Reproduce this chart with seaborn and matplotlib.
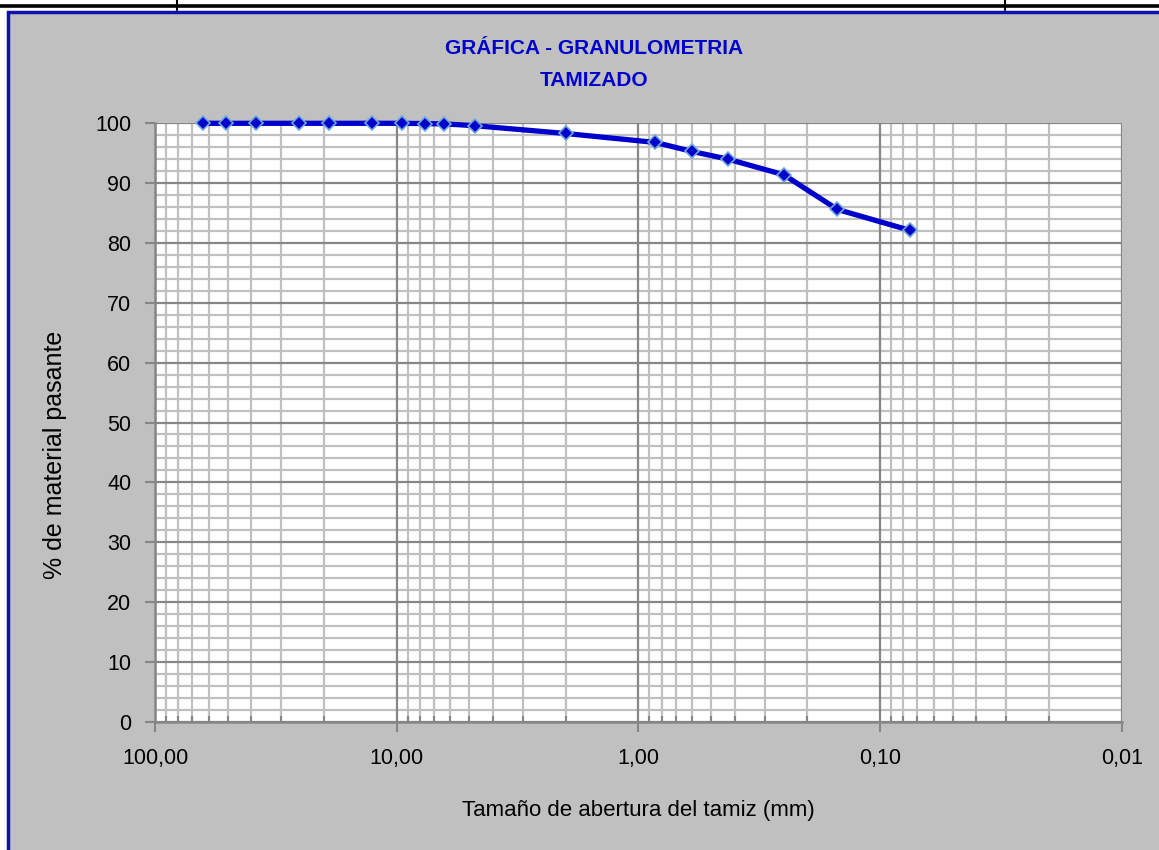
import numpy as np
import pandas as pd
import seaborn as sns
import matplotlib
matplotlib.use("Agg")
import matplotlib.pyplot as plt
from matplotlib.patches import Rectangle
from matplotlib.lines import Line2D
from matplotlib.ticker import LogLocator, MultipleLocator, FuncFormatter, NullFormatter

# Sieve openings (mm) and cumulative percent passing
abertura_mm = [63.5, 50.8, 38.1, 25.4, 19.05, 12.7, 9.525, 7.6, 6.35, 4.75,
               2.0, 0.85, 0.6, 0.425, 0.25, 0.15, 0.075]
pasante = [100.0, 100.0, 100.0, 100.0, 100.0, 100.0, 100.0, 99.95, 99.9, 99.6,
           98.3, 96.8, 95.3, 94.0, 91.4, 85.6, 82.1]

titulo_1 = "GRÁFICA - GRANULOMETRIA"
titulo_2 = "TAMIZADO"
etiqueta_x = "Tamaño de abertura del tamiz (mm)"
etiqueta_y = "% de material pasante"

df = pd.DataFrame({"abertura": abertura_mm, "pasante": pasante})

sns.set_theme(style="white")
plt.rcParams["font.family"] = ["Liberation Sans", "DejaVu Sans"]

W, H = 1159, 850
fig = plt.figure(figsize=(W / 100, H / 100), dpi=100)
fig.patch.set_facecolor("white")

# Gray chart panel with blue frame
fig.add_artist(Rectangle((8 / W, -0.02), 1.05, (H - 12) / H + 0.02,
                         transform=fig.transFigure, facecolor="#C0C0C0",
                         edgecolor="#1010B0", linewidth=2.5, zorder=0))
# Table border strip above the chart
fig.add_artist(Line2D([0, 1], [1 - 6 / H, 1 - 6 / H], transform=fig.transFigure,
                      color="black", linewidth=2.6))
for xp in (177, 1005):
    fig.add_artist(Line2D([xp / W, xp / W], [1, 1 - 10 / H], transform=fig.transFigure,
                          color="black", linewidth=1.5))

ax = fig.add_axes([155 / W, 1 - 721.7 / H, (1121.7 - 155) / W, (721.7 - 123.3) / H])
ax.set_facecolor("white")

ax.set_xscale("log")
ax.set_xlim(100, 0.01)
ax.set_ylim(0, 100)

ax.xaxis.set_major_locator(LogLocator(base=10, numticks=10))
ax.xaxis.set_minor_locator(LogLocator(base=10, subs=np.arange(2, 10), numticks=20))
ax.xaxis.set_major_formatter(FuncFormatter(lambda v, p: f"{v:.2f}".replace(".", ",")))
ax.xaxis.set_minor_formatter(NullFormatter())
ax.yaxis.set_major_locator(MultipleLocator(10))
ax.yaxis.set_minor_locator(MultipleLocator(2))

# Light minor grid underneath, darker major grid on top of it
xmin_locs = [v for v in ax.xaxis.get_minorticklocs() if 0.01 < v < 100]
ymin_locs = [v for v in ax.yaxis.get_minorticklocs() if 0 < v < 100]
ax.vlines(xmin_locs, 0, 100, colors="#C0C0C0", linewidth=1.6, zorder=0.2)
ax.hlines(ymin_locs, 0.01, 100, colors="#C0C0C0", linewidth=1.6, zorder=0.2)
ax.grid(which="major", color="#868686", linewidth=1.6)
ax.set_axisbelow(True)

sns.lineplot(data=df, x="abertura", y="pasante", ax=ax, color="#0000CC",
             linewidth=3.8, marker="D", markersize=7, markerfacecolor="#0000CC",
             markeredgecolor="#6FA8DC", markeredgewidth=1.2, zorder=5, sort=False)
for ln in ax.get_lines():
    ln.set_clip_on(False)

for side in ("top", "right"):
    ax.spines[side].set_visible(False)
for side in ("left", "bottom"):
    ax.spines[side].set_color("#868686")
    ax.spines[side].set_linewidth(1.8)

ax.tick_params(axis="both", which="major", direction="out", length=7, width=1.5,
               color="#868686", labelsize=15.5, labelcolor="black",
               bottom=True, left=True)
ax.tick_params(axis="x", which="major", pad=12)
ax.tick_params(axis="y", which="major", pad=10)
ax.tick_params(axis="x", which="minor", direction="in", length=4, width=1.5,
               color="#868686", bottom=True)
ax.tick_params(axis="y", which="minor", length=0)

ax.set_xlabel(etiqueta_x, fontsize=16, color="black", labelpad=22)
ax.set_ylabel(etiqueta_y, fontsize=18, color="black")
ax.yaxis.set_label_coords(-0.091, 0.446)

fig.text(594 / W, 1 - 48 / H, titulo_1, ha="center", va="center", fontsize=15,
         fontweight="bold", color="#0000CC")
fig.text(594 / W, 1 - 80 / H, titulo_2, ha="center", va="center", fontsize=15,
         fontweight="bold", color="#0000CC")

fig.savefig("out.png", dpi=100, facecolor=fig.get_facecolor())
